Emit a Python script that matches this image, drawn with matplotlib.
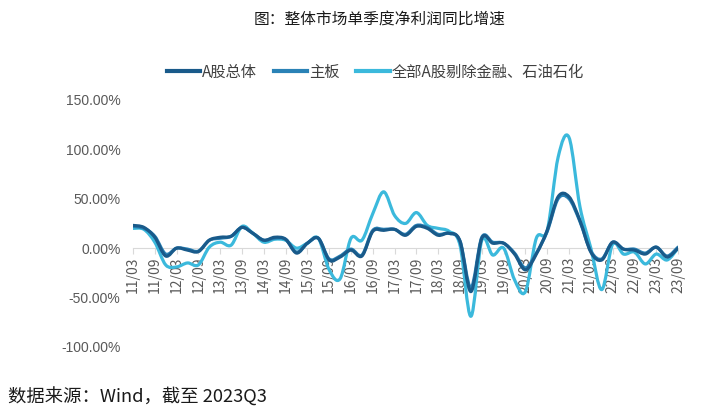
import numpy as np
import matplotlib
matplotlib.use("Agg")
import matplotlib.pyplot as plt
from matplotlib.path import Path
from matplotlib.patches import PathPatch
from matplotlib.lines import Line2D
from matplotlib.ticker import FuncFormatter

plt.rcParams['font.family'] = ['Noto Sans CJK SC', 'DejaVu Sans']

# 2011Q1 .. 2023Q3
quarters = [f"{y:02d}/{m}" for y in range(11, 24) for m in ("03", "06", "09", "12")][:51]

a_share = [23, 21, 11, -8, 0, -2, -3.5, 8, 11, 12, 21, 15, 8, 11, 9, -5, 5, 10, -12, -9,
           -2, -8, 17, 18, 19, 13, 22, 20, 13, 15, 7, -44, 10, 5, 5, -6, -22, -6, 18, 52,
           52, 28, -4, -12, 6, -1, -2, -6, 1, -9, 0]
main_board = [22, 20, 12, -6, 0, -1, -3, 8, 10, 12, 21, 15, 8, 10, 9, -4, 5, 10, -11, -8,
              -1, -7, 18, 19, 19, 14, 23, 21, 14, 15, 7, -40, 11, 6, 5, -5, -20, -5, 17, 50,
              50, 27, -3, -11, 6, -1, -1, -5, 1, -8, 1]
ex_fin_oil = [20, 19, 6, -17, -19, -15, -17, 1, 6, 3, 22, 15, 6, 9, 8, 0, 5, 10, -22, -31,
              10, 8, 35, 57, 33, 25, 36, 23, 20, 17, 3, -69, 8, -7, 0, -32, -44, 10, 18, 92,
              112, 42, 0, -42, 4, -6, -4, -16, -6, -12, 0]

names = ["A股总体", "主板", "全部A股剔除金融、石油石化"]
colors = ["#195a8a", "#2a82b6", "#3bb9dc"]


def smooth_patch(x, y, color):
    # catmull-rom style bezier, like excel smoothed lines
    x = np.asarray(x, float)
    y = np.asarray(y, float)
    verts = [(x[0], y[0])]
    codes = [Path.MOVETO]
    n = len(x)
    for i in range(n - 1):
        x0, y0 = (x[i - 1], y[i - 1]) if i > 0 else (x[i], y[i])
        x3, y3 = (x[i + 2], y[i + 2]) if i + 2 < n else (x[i + 1], y[i + 1])
        c1 = (x[i] + (x[i + 1] - x0) / 6, y[i] + (y[i + 1] - y0) / 6)
        c2 = (x[i + 1] - (x3 - x[i]) / 6, y[i + 1] - (y3 - y[i]) / 6)
        verts += [c1, c2, (x[i + 1], y[i + 1])]
        codes += [Path.CURVE4] * 3
    return PathPatch(Path(verts, codes), facecolor="none", edgecolor=color,
                     lw=2.3, capstyle="round", joinstyle="round", zorder=3)


fig = plt.figure(figsize=(7.24, 4.2), dpi=100)
ax = fig.add_axes([0.1837, 0.174, 0.7528, 0.588])

x = np.arange(len(quarters))
for series, c in [(ex_fin_oil, colors[2]), (main_board, colors[1]), (a_share, colors[0])]:
    ax.add_patch(smooth_patch(x, series, c))

ax.set_xlim(0, len(quarters) - 1)
ax.set_ylim(-100, 150)
ax.set_yticks([-100, -50, 0, 50, 100, 150])
ax.yaxis.set_major_formatter(FuncFormatter(lambda v, p: f"{v:.2f}%"))
ax.set_xticks(x[::2])
ax.set_xticklabels(quarters[::2], family=["Liberation Sans"])

for s in ["top", "right", "left"]:
    ax.spines[s].set_visible(False)
ax.spines["bottom"].set_position(("data", 0))
ax.spines["bottom"].set_color("#d9d9d9")
ax.tick_params(axis="x", colors="#595959", labelsize=10, length=4, width=0.8,
               color="#d9d9d9", pad=2, labelrotation=90)
ax.tick_params(axis="y", colors="#595959", labelsize=10, length=0, pad=9)
for lab in ax.get_yticklabels():
    lab.set_family(["Liberation Sans"])

handles = [Line2D([], [], color=c, lw=3) for c in colors]
fig.legend(handles, names, loc="center", bbox_to_anchor=(0.518, 0.828), ncol=3,
           frameon=False, fontsize=11, handlelength=2.2, handletextpad=0.1,
           columnspacing=1.1, labelcolor="#404040")

fig.text(0.525, 0.952, "图：整体市场单季度净利润同比增速", ha="center", va="center",
         fontsize=11.3, color="#1a1a1a")
fig.text(0.011, 0.055, "数据来源：Wind，截至 2023Q3", ha="left", va="center",
         fontsize=13.2, color="#1a1a1a")

fig.savefig("out.png", dpi=100)
